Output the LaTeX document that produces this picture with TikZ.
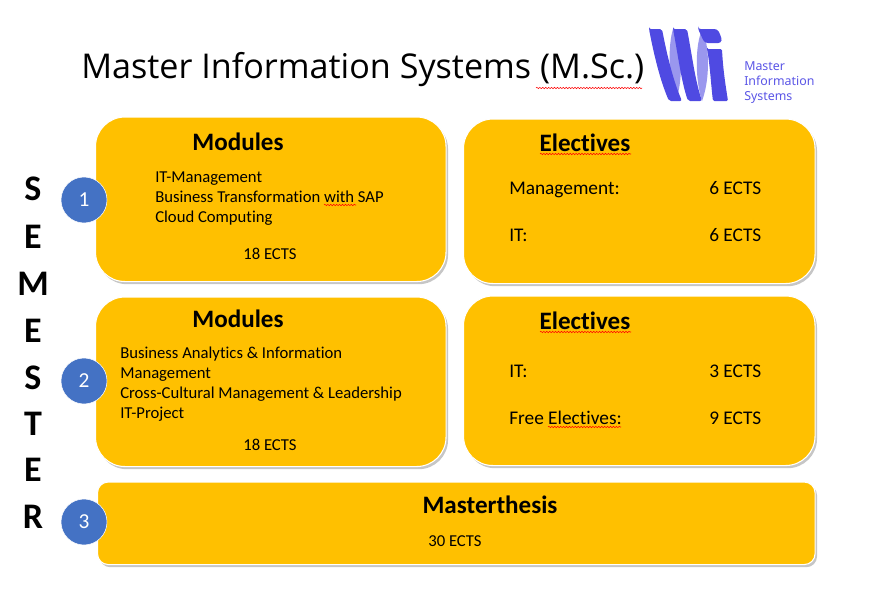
\documentclass[tikz,border=0pt]{standalone}
\usepackage{fontspec}
\setmainfont[Ligatures=NoCommon]{Carlito}
\newfontfamily\titlefont{Open Sans}
\newfontfamily\logofont{Noto Sans}
\usetikzlibrary{shadows,decorations.pathmorphing}
\definecolor{panelgold}{RGB}{255,192,0}
\definecolor{circleblue}{RGB}{68,114,196}
\definecolor{logodark}{RGB}{79,74,226}
\definecolor{logolight}{RGB}{154,151,238}
\definecolor{logotext}{RGB}{90,85,230}
\tikzset{
    panel/.style={draw=white, thick, fill=panelgold, anchor=north west, inner sep=0pt, rounded corners=22pt,
        drop shadow={shadow xshift=1.5pt, shadow yshift=-2pt, opacity=0.45}},
    semcircle/.style={circle, draw=white, fill=circleblue, text=white, minimum size=34.5pt, inner sep=0pt, font=\fontsize{16}{16}\selectfont},
    heading/.style={font=\bfseries\fontsize{18.8}{18.8}\selectfont},
    body/.style={font=\fontsize{12.5}{15}\selectfont, align=left, inner sep=0pt},
    bodybig/.style={font=\fontsize{14.5}{15}\selectfont, anchor=base west, inner sep=0pt},
    letter/.style={font=\bfseries\fontsize{27}{27}\selectfont},
    spellmark/.style={draw=red, line width=0.4pt, decorate, decoration={snake, amplitude=0.5pt, segment length=2.2pt}}
}
\begin{document}
\begin{tikzpicture}[x=0.75pt,y=-0.75pt]
    \useasboundingbox (0,0) rectangle (876,603);
    % title and logo
    \node[font=\titlefont\fontsize{25.6}{26}\selectfont, anchor=west, inner sep=0pt] (title) at (81,70) {Master Information Systems (M.Sc.)};
    \fill[logolight] (673,29) .. controls (668,45) and (668,80) .. (676,101) .. controls (683,80) and (683,45) .. (673,29) -- cycle;
    \fill[logolight] (702,30) .. controls (695,45) and (695,80) .. (702,101) .. controls (710,80) and (710,45) .. (702,30) -- cycle;
    \fill[logodark, rounded corners=1.5pt] (649,29) -- (662,29) .. controls (667,55) and (673,80) .. (682,101) -- (669,101) .. controls (660,80) and (654,55) .. (649,29) -- cycle;
    \fill[logodark, rounded corners=1.5pt] (673,29) -- (687,29) .. controls (692,55) and (695,80) .. (702,101) -- (688,101) .. controls (681,80) and (678,55) .. (673,29) -- cycle;
    \fill[logodark, rounded corners=2pt] (698,29) -- (717,29) .. controls (719,32) and (722,38) .. (721,43) -- (705,43) .. controls (702,38) and (700,33) .. (698,29) -- cycle;
    \fill[logodark, rounded corners=1pt] (707,49) -- (722,49) .. controls (723,70) and (726,88) .. (728,101) -- (713,101) .. controls (711,85) and (710,65) .. (707,49) -- cycle;
    \node[font=\logofont\fontsize{9.3}{11.3}\selectfont, text=logotext, align=left, anchor=north west, inner sep=0pt] (logotext) at (744,61) {Master\\Information\\Systems};
    % panels
    \node[panel, minimum width=350.5*0.75pt, minimum height=164.5*0.75pt] (modone) at (95,116.5) {};
    \node[panel, minimum width=351.5*0.75pt, minimum height=164.5*0.75pt] (eleone) at (463,118.5) {};
    \node[panel, minimum width=350.5*0.75pt, minimum height=169.5*0.75pt] (modtwo) at (95,296.5) {};
    \node[panel, minimum width=351.5*0.75pt, minimum height=169.5*0.75pt] (eletwo) at (463,295.5) {};
    \node[panel, rounded corners=8pt, minimum width=717.5*0.75pt, minimum height=82.5*0.75pt] (thesis) at (97,481.5) {};
    % semester circles
    \node[semcircle] (semone) at (84,200) {1};
    \node[semcircle] (semtwo) at (84,381) {2};
    \node[semcircle] (semthree) at (84,522) {3};
    % semester letters
    \foreach \ch/\ypos in {S/189,E/237,M/284,E/331,S/378,T/424,E/470,R/517}
        \node[letter] at (33,\ypos) {\ch};
    % first semester
    \node[heading] (modhead) at (238,142) {Modules};
    \node[body, anchor=north west] (modlist) at (155,171.5) {IT-Management\\Business Transformation with SAP\\Cloud Computing};
    \node[body] (modects) at (270,254) {18 ECTS};
    \node[heading] (elehead) at (585,143) {Electives};
    \node[bodybig] (elemgmt) at (509,194) {Management:};
    \node[bodybig] (elemgmtects) at (709,194) {6 ECTS};
    \node[bodybig] (eleit) at (509,241) {IT:};
    \node[bodybig] (eleitects) at (709,241) {6 ECTS};
    % second semester
    \node[heading] (modheadb) at (238,319) {Modules};
    \node[body, anchor=north west] (modlistb) at (120,346.5) {Business Analytics \& Information\\Management\\Cross-Cultural Management \& Leadership\\IT-Project};
    \node[body] (modectsb) at (270,445) {18 ECTS};
    \node[heading] (eleheadb) at (585,321) {Electives};
    \node[bodybig] (eleitb) at (509,377) {IT:};
    \node[bodybig] (eleitbects) at (709,377) {3 ECTS};
    \node[bodybig] (elefree) at (509,424) {Free Electives:};
    \node[bodybig] (elefreeects) at (709,424) {9 ECTS};
    % third semester
    \node[heading] (thesishead) at (490,505) {Masterthesis};
    \node[body] (thesisects) at (455,541.5) {30 ECTS};
    % spell check marks
    \draw[spellmark] (536,88) -- (642,88);
    \draw[spellmark] (324,205) -- (356,205);
    \draw[spellmark] (540,154) -- (631,154);
    \draw[spellmark] (540,332) -- (631,332);
    \draw[spellmark] (548,427) -- (621,427);
\end{tikzpicture}
\end{document}
